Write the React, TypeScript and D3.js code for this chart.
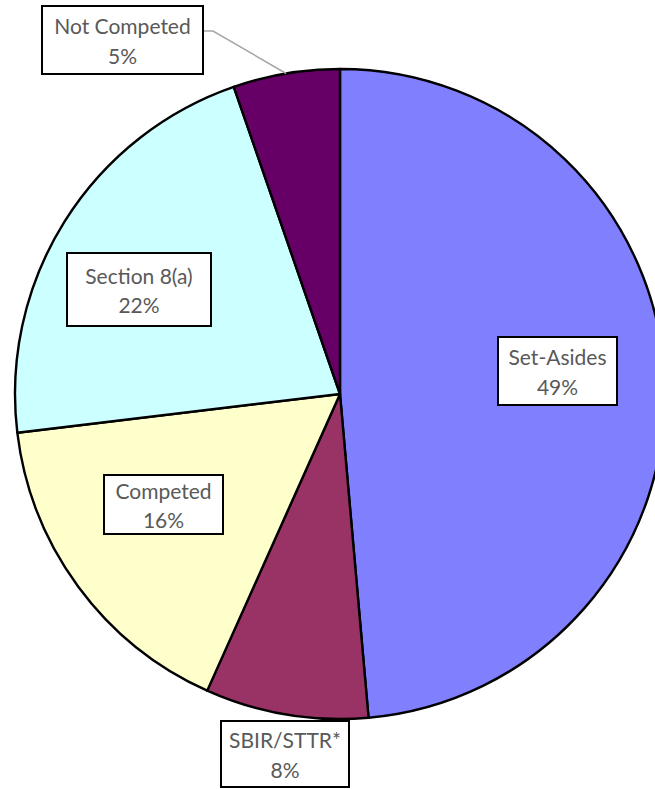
import React, { useEffect, useRef } from "react";
import * as d3 from "d3";

const categories = ["Set-Asides", "SBIR/STTR*", "Competed", "Section 8(a)", "Not Competed"];
const shares = [48.6, 8.1, 16.4, 21.6, 5.3];
const colors = ["#8080FF", "#993366", "#FFFFCC", "#CCFFFF", "#660066"];

// label box layout (center x, center y, width, height)
const labelBoxes = [
  { cx: 557.5, cy: 371, w: 119, h: 68 },
  { cx: 285, cy: 754, w: 128, h: 66 },
  { cx: 163.5, cy: 504.5, w: 119, h: 59 },
  { cx: 139, cy: 289.5, w: 144, h: 73 },
  { cx: 122.5, cy: 40, w: 161, h: 68 },
];

const W = 655;
const H = 789;

export default function App() {
  const ref = useRef<SVGSVGElement>(null);
  useEffect(() => {
    const svg = d3.select(ref.current);
    svg.selectAll("*").remove();
    const cx = 340, cy = 394, r = 325;
    const data = categories.map((c, i) => ({ c, v: shares[i], color: colors[i], box: labelBoxes[i] }));
    const pie = d3.pie<any>().sort(null).value((d) => d.v);
    const arc = d3.arc<any>().innerRadius(0).outerRadius(r);
    const arcs = pie(data);
    const g = svg.append("g").attr("transform", `translate(${cx},${cy})`);
    g.selectAll("path")
      .data(arcs)
      .enter()
      .append("path")
      .attr("d", arc as any)
      .attr("fill", (d: any) => d.data.color)
      .attr("stroke", "#000")
      .attr("stroke-width", 2.4)
      .attr("stroke-linejoin", "round");

    // leader line for Not Competed
    const nc = arcs[4];
    const ncAngle = nc.startAngle + (nc.endAngle - nc.startAngle) * 0.5;
    const ex = cx + Math.sin(ncAngle) * r;
    const ey = cy - Math.cos(ncAngle) * r;
    const b = labelBoxes[4];
    svg
      .append("polyline")
      .attr("points", `${b.cx + b.w / 2},${b.cy - 9} ${b.cx + b.w / 2 + 10},${b.cy - 9} ${ex},${ey}`)
      .attr("fill", "none")
      .attr("stroke", "#A6A6A6")
      .attr("stroke-width", 1.5);

    const lg = svg.append("g");
    data.forEach((d) => {
      const bx = d.box;
      lg.append("rect")
        .attr("x", bx.cx - bx.w / 2)
        .attr("y", bx.cy - bx.h / 2)
        .attr("width", bx.w)
        .attr("height", bx.h)
        .attr("fill", "#fff")
        .attr("stroke", "#000")
        .attr("stroke-width", 2);
      const t = lg.append("text")
        .attr("x", bx.cx)
        .attr("y", bx.cy)
        .attr("text-anchor", "middle")
        .attr("font-family", "Lato, 'Open Sans', sans-serif")
        .attr("font-size", 21)
        .attr("fill", "#595959");
      t.append("tspan").attr("x", bx.cx).attr("dy", "-0.28em").text(d.c);
      t.append("tspan").attr("x", bx.cx).attr("dy", "1.42em").text(`${Math.round(d.v)}%`);
    });
  }, []);
  return (
    <svg
      ref={ref}
      width={W}
      height={H}
      style={{ position: "absolute", left: 0, top: 0, background: "#fff" }}
    />
  );
}
